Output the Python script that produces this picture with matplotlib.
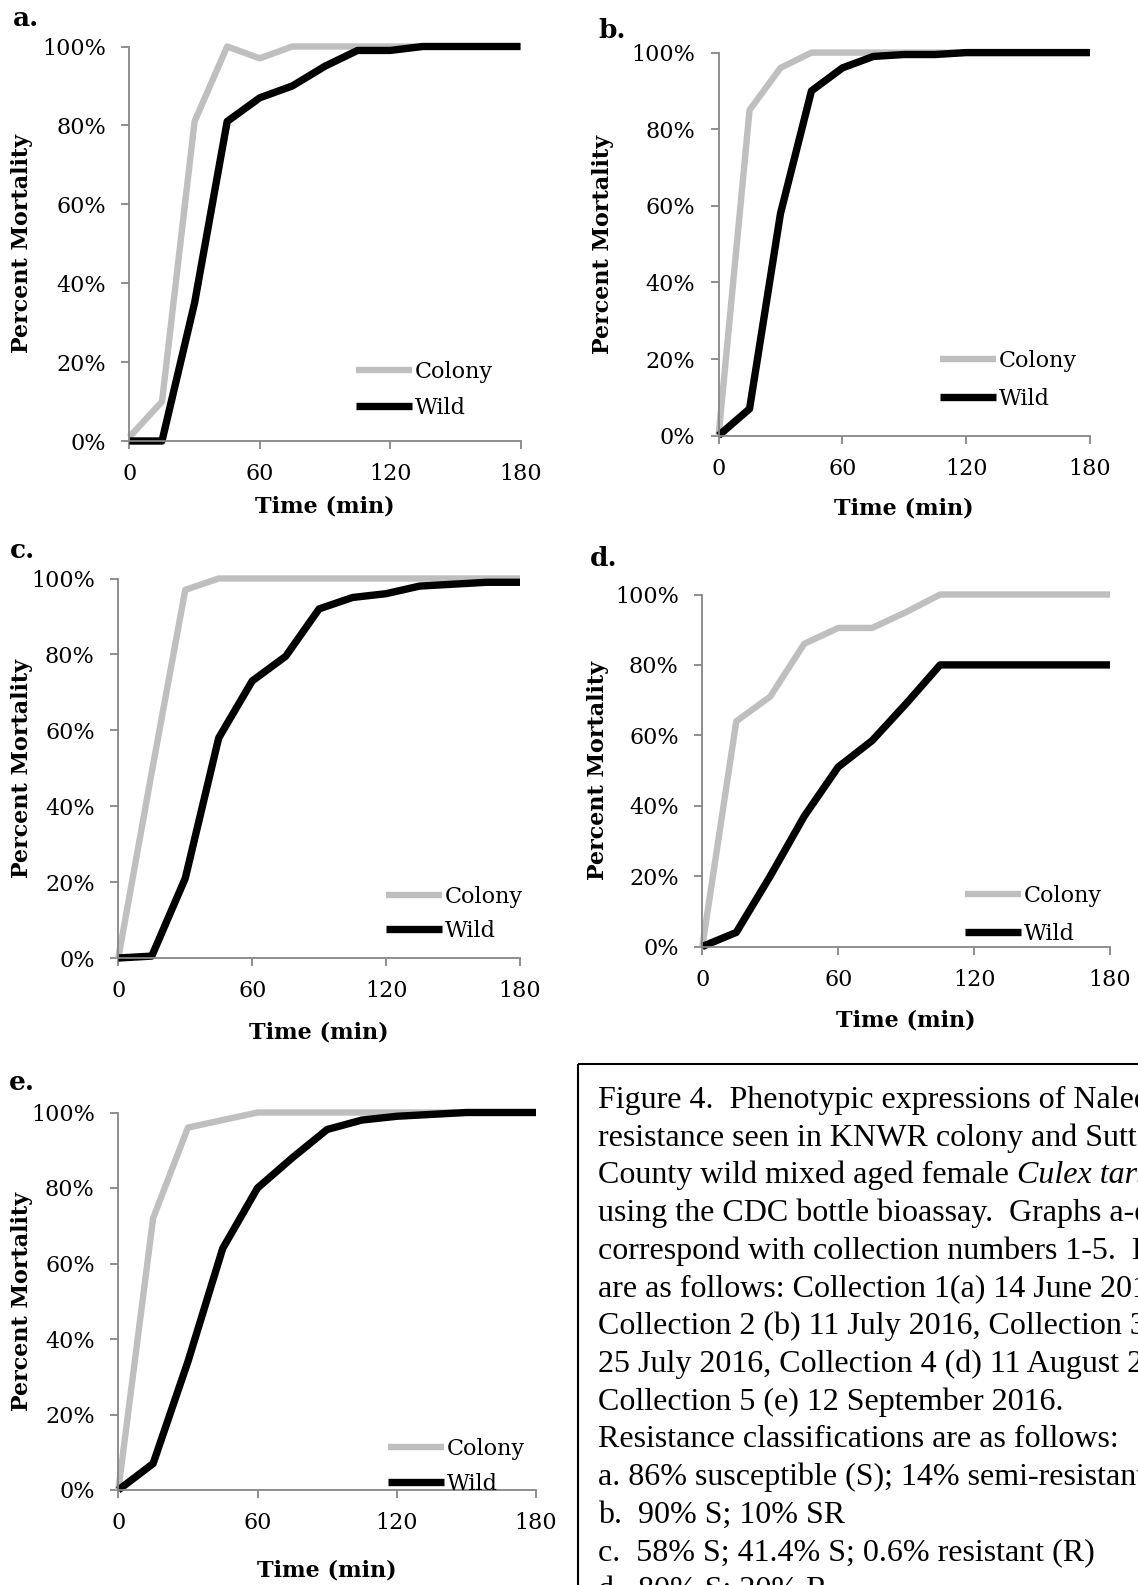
import matplotlib
matplotlib.use('Agg')
import matplotlib.pyplot as plt
from matplotlib.patches import Rectangle
from matplotlib.ticker import FuncFormatter

W, H = 1138, 1585
COLONY_C, WILD_C, AXIS_C = '#bfbfbf', '#000000', '#868686'
FS = 16
FS_PX = FS * 100 / 72
plt.rcParams['font.family'] = ['DejaVu Serif']

# ── data (percent mortality every 15 min) ────────────────────────────────────
time_min = [0, 15, 30, 45, 60, 75, 90, 105, 120, 135, 150, 165, 180]
x_ticks = [0, 60, 120, 180]
y_ticks = [0, 20, 40, 60, 80, 100]

colony_a = [1, 10, 81, 100, 97, 100, 100, 100, 100, 100, 100, 100, 100]
wild_a   = [0, 0, 35, 81, 87, 90, 95, 99, 99, 100, 100, 100, 100]
colony_b = [0, 85, 96, 100, 100, 100, 100, 100, 100, 100, 100, 100, 100]
wild_b   = [0, 7, 58, 90, 96, 99, 99.5, 99.5, 100, 100, 100, 100, 100]
colony_c = [0, 49, 97, 100, 100, 100, 100, 100, 100, 100, 100, 100, 100]
wild_c   = [0, 0.5, 21, 58, 73, 79.5, 92, 95, 96, 98, 98.5, 99, 99]
colony_d = [0, 64, 71, 86, 90.5, 90.5, 95, 100, 100, 100, 100, 100, 100]
wild_d   = [0, 4, 20, 37, 51, 58.5, 69, 80, 80, 80, 80, 80, 80]
colony_e = [0, 72, 96, 98, 100, 100, 100, 100, 100, 100, 100, 100, 100]
wild_e   = [0, 7, 34, 64, 80, 88, 95.5, 98, 99, 99.5, 100, 100, 100]

caption = [
    ['Figure 4.  Phenotypic expressions of Naled'],
    ['resistance seen in KNWR colony and Sutter'],
    ['County wild mixed aged female ', 'Culex tarsalis'],
    ['using the CDC bottle bioassay.  Graphs a-e'],
    ['correspond with collection numbers 1-5.  Dates'],
    ['are as follows: Collection 1(a) 14 June 2016,'],
    ['Collection 2 (b) 11 July 2016, Collection 3 (c)'],
    ['25 July 2016, Collection 4 (d) 11 August 2016,'],
    ['Collection 5 (e) 12 September 2016.'],
    ['Resistance classifications are as follows:'],
    ['a. 86% susceptible (S); 14% semi-resistant (SR)'],
    ['b.  90% S; 10% SR'],
    ['c.  58% S; 41.4% S; 0.6% resistant (R)'],
    ['d.  80% S; 20% R'],
]

# panel layout in pixels: axes box (l, t, r, b), letter pos, ylabel x, xlabel y, legend (x, y_colony, y_wild)
panels = [
    dict(tag='a.', colony=colony_a, wild=wild_a, box=(129.4, 46.5, 520.5, 441),
         tag_xy=(26, 18), ylab_x=22, xlab_y=506, leg=(356, 372, 408)),
    dict(tag='b.', colony=colony_b, wild=wild_b, box=(718.6, 52.6, 1090, 435.6),
         tag_xy=(612, 30), ylab_x=603, xlab_y=508, leg=(940, 361, 399)),
    dict(tag='c.', colony=colony_c, wild=wild_c, box=(118.3, 578.5, 520, 958),
         tag_xy=(23, 550), ylab_x=22, xlab_y=1033, leg=(386, 897, 931)),
    dict(tag='d.', colony=colony_d, wild=wild_d, box=(702.3, 594.5, 1110, 946.5),
         tag_xy=(604, 559), ylab_x=598, xlab_y=1021, leg=(965, 896, 934)),
    dict(tag='e.', colony=colony_e, wild=wild_e, box=(118.3, 1112.5, 536, 1490),
         tag_xy=(22, 1083), ylab_x=22, xlab_y=1570, leg=(388, 1449, 1484)),
]

fig = plt.figure(figsize=(W / 100, H / 100), dpi=100)
tax = fig.add_axes([0, 0, 1, 1])
tax.set_xlim(0, W); tax.set_ylim(H, 0); tax.axis('off')

for p in panels:
    l, t, r, b = p['box']
    ax = fig.add_axes([l / W, 1 - b / H, (r - l) / W, (b - t) / H])
    ax.set_facecolor('none')
    ax.plot(time_min, p['colony'], color=COLONY_C, lw=4.6, clip_on=False,
            solid_joinstyle='round', solid_capstyle='butt', label='Colony')
    ax.plot(time_min, p['wild'], color=WILD_C, lw=5.3, clip_on=False,
            solid_joinstyle='round', solid_capstyle='butt', label='Wild')
    ax.set_xlim(0, 180); ax.set_ylim(0, 100)
    ax.set_xticks(x_ticks); ax.set_yticks(y_ticks)
    ax.yaxis.set_major_formatter(FuncFormatter(lambda v, _: f'{v:.0f}%'))
    for s in ['top', 'right']:
        ax.spines[s].set_visible(False)
    for s in ['left', 'bottom']:
        ax.spines[s].set_color(AXIS_C); ax.spines[s].set_linewidth(1.3)
    ax.tick_params(direction='out', length=6, width=1.3, color=AXIS_C, labelsize=FS)
    ax.tick_params(axis='y', pad=11)
    ax.tick_params(axis='x', pad=10)

    lx, ly_c, ly_w = p['leg']
    ax.legend(loc='center left', bbox_to_anchor=(lx, (ly_c + ly_w) / 2), bbox_transform=tax.transData,
              frameon=False, fontsize=FS, handlelength=2.5, handletextpad=0.15,
              labelspacing=(ly_w - ly_c) / FS_PX - 0.985, borderpad=0, borderaxespad=0)

    tax.text(*p['tag_xy'], p['tag'], fontsize=19, fontweight='bold', ha='center', va='center')
    tax.text(p['ylab_x'], (t + b) / 2, 'Percent Mortality', rotation=90, fontsize=FS,
             fontweight='bold', ha='center', va='center')
    tax.text((l + r) / 2, p['xlab_y'], 'Time (min)', fontsize=FS, fontweight='bold',
             ha='center', va='center')

# ── caption box (runs off the page edge like the source) ─────────────────────
tax.add_patch(Rectangle((578, 1064), 900, 900, fill=False, ec='black', lw=1.5))
cap_kw = dict(fontsize=23, family='Liberation Serif', va='baseline', ha='left')
for i, parts in enumerate(caption):
    y = 1108 + i * 37.7
    txt = tax.text(598, y, parts[0], **cap_kw)
    if len(parts) > 1:
        tax.annotate(parts[1], xy=(1, 0), xycoords=txt, va='bottom', ha='left',
                     fontsize=23, family='Liberation Serif', fontstyle='italic')

fig.savefig('out.png', dpi=100, facecolor='white')
